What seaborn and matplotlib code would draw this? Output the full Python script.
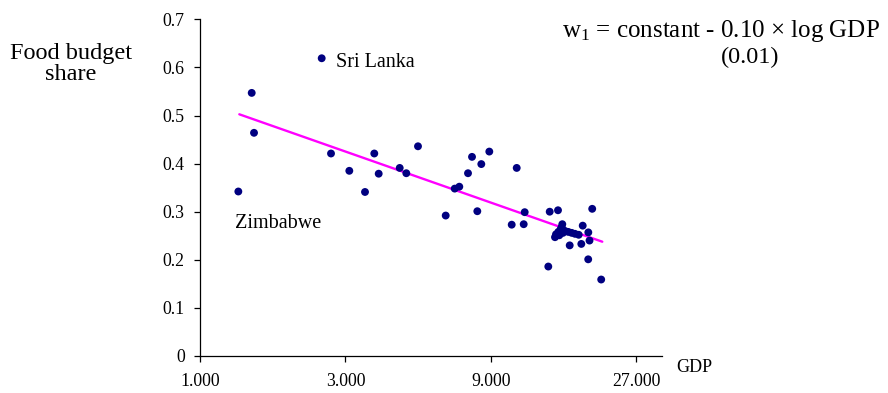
import numpy as np
import pandas as pd
import matplotlib
matplotlib.use("Agg")
import matplotlib.pyplot as plt
import matplotlib.ticker as mticker
import seaborn as sns

# ---- data ----
gdp = [2508, 1478, 1504, 1336, 2691, 3090, 3479, 3732, 3858, 4522,
       4753, 5192, 6401, 6852, 7094, 7576, 7809, 8128, 8377, 8899,
       10946, 10540, 11627, 11540, 13897, 14045, 14954, 15448, 19365, 18024,
       18803, 18973, 17834, 16336, 18788, 20726, 14619, 14729, 14988, 15263,
       15379, 15767, 16165, 16585, 17005, 17486, 15102, 15530]
food_share = [0.619, 0.547, 0.464, 0.342, 0.421, 0.385, 0.341, 0.421, 0.379, 0.391,
              0.380, 0.436, 0.292, 0.348, 0.352, 0.380, 0.414, 0.301, 0.399, 0.425,
              0.391, 0.273, 0.299, 0.274, 0.186, 0.300, 0.303, 0.274, 0.306, 0.271,
              0.257, 0.240, 0.233, 0.230, 0.201, 0.159, 0.247, 0.253, 0.258, 0.264,
              0.268, 0.260, 0.258, 0.256, 0.254, 0.252, 0.251, 0.256]
fit_gdp = [1346, 20898]
fit_share = [0.5025, 0.2376]
x_ticks = [1000, 3000, 9000, 27000]
x_tick_labels = ["1.000", "3.000", "9.000", "27.000"]
y_ticks = [0, 0.1, 0.2, 0.3, 0.4, 0.5, 0.6, 0.7]
y_tick_labels = ["0", "0.1", "0.2", "0.3", "0.4", "0.5", "0.6", "0.7"]
annotations = [("Sri Lanka", 2794, 0.611), ("Zimbabwe", 1303, 0.2765)]

sns.set_theme(style="white")
plt.rcParams["font.family"] = ["Liberation Serif", "DejaVu Serif"]
plt.rcParams["mathtext.fontset"] = "custom"
plt.rcParams["mathtext.rm"] = "Liberation Serif"
plt.rcParams["mathtext.it"] = "Liberation Serif:italic"

W, H = 888, 393
fig = plt.figure(figsize=(W / 100, H / 100), dpi=100)
ax = fig.add_axes([200 / W, 1 - 356 / H, (661.7 - 200) / W, (356 - 19.3) / H])

df = pd.DataFrame({"gdp": gdp, "share": food_share})
fit = pd.DataFrame({"gdp": fit_gdp, "share": fit_share})

sns.lineplot(data=fit, x="gdp", y="share", ax=ax, color="#FF00FF", linewidth=1.7, zorder=2)
sns.scatterplot(data=df, x="gdp", y="share", ax=ax, color="#000080", s=32,
                edgecolor="none", linewidth=0, zorder=3)

ax.set_xscale("log")
ax.set_xlim(1000, 32737)
ax.set_ylim(0, 0.7)
ax.xaxis.set_major_locator(mticker.FixedLocator(x_ticks))
ax.xaxis.set_minor_locator(mticker.NullLocator())
ax.set_xticks(x_ticks)
ax.set_xticklabels(x_tick_labels)
ax.set_yticks(y_ticks)
ax.set_yticklabels(y_tick_labels)
ax.set_xlabel("")
ax.set_ylabel("")

for side in ["top", "right"]:
    ax.spines[side].set_visible(False)
for side in ["left", "bottom"]:
    ax.spines[side].set_color("black")
    ax.spines[side].set_linewidth(0.9)
ax.tick_params(axis="both", direction="out", length=4, width=0.9, colors="black",
               labelsize=12.8, left=True, bottom=True)
ax.tick_params(axis="x", pad=8)
ax.tick_params(axis="y", pad=7)

for name, xv, yv in annotations:
    ax.text(xv, yv, name, ha="left", va="center", fontsize=14.5, color="black")

fig.text(71 / W, 1 - 64 / H, "Food budget\nshare", ha="center", va="center",
         fontsize=17.5, linespacing=1.05, color="black")
fig.text(720.5 / W, 1 - 31 / H, r"w$_\mathrm{1}$ = constant - 0.10 × log GDP",
         ha="center", va="center", fontsize=18, color="black")
fig.text(750 / W, 1 - 57 / H, "(0.01)", ha="center", va="center",
         fontsize=17.5, color="black")
fig.text(676 / W, 1 - 367 / H, "GDP", ha="left", va="center", fontsize=13, color="black")

fig.savefig("out.png", dpi=100, facecolor="white")
